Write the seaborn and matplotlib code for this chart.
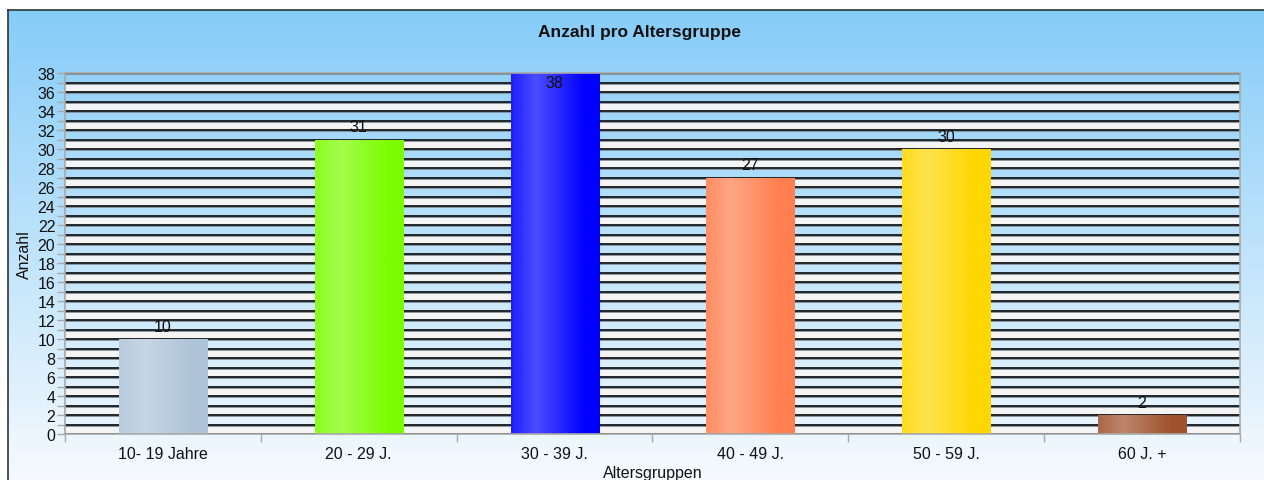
import numpy as np
import matplotlib
matplotlib.use("Agg")
import matplotlib.pyplot as plt
import matplotlib.colors as mcolors
import seaborn as sns

# Data
categories = ["10- 19 Jahre", "20 - 29 J.", "30 - 39 J.", "40 - 49 J.", "50 - 59 J.", "60 J. +"]
counts = [10, 31, 38, 27, 30, 2]
bar_colors = ["#AEC4D8", "#7CFC00", "#0000FF", "#FF7F50", "#FFD700", "#A0522D"]
y_max = 38

sns.set_theme(style="white")
plt.rcParams["font.family"] = ["Liberation Sans", "DejaVu Sans"]

W, H = 1264, 481
FS = 11.5
fig = plt.figure(figsize=(W / 100, H / 100), dpi=100, facecolor="white")

# Chart panel background: vertical gradient from sky blue to near white
bg_ax = fig.add_axes([8 / W, 0, 1 - 8 / W, 1 - 11 / H], zorder=0)
top_c = np.array(mcolors.to_rgb("#86CCF8"))
bot_c = np.array(mcolors.to_rgb("#F6FAFE"))
t = np.linspace(0, 1, 256)[:, None]
grad = top_c[None, None, :] * (1 - t[..., None]) + bot_c[None, None, :] * t[..., None]
grad = np.repeat(grad, 2, axis=1)
bg_ax.imshow(grad, aspect="auto", extent=(0, 1, 0, 1), origin="upper")
bg_ax.set_xlim(0, 1)
bg_ax.set_ylim(0, 1)
bg_ax.set_xticks([])
bg_ax.set_yticks([])
for side in ["right", "bottom"]:
    bg_ax.spines[side].set_visible(False)
for side in ["left", "top"]:
    bg_ax.spines[side].set_color("#333333")
    bg_ax.spines[side].set_linewidth(1.2)

# Plot area
ax = fig.add_axes([65 / W, (H - 435) / H, (1240 - 65) / W, (435 - 74) / H], zorder=1)
ax.set_facecolor("none")

sns.barplot(x=categories, y=counts, hue=categories, palette=bar_colors, width=0.45,
            legend=False, ax=ax, saturation=1, zorder=3, linewidth=0)

ax.set_xlim(-0.5, len(categories) - 0.5)
ax.set_ylim(0, y_max)

# Interlaced stripes and gridlines
for k in range(0, y_max, 2):
    ax.axhspan(k, k + 1, color="#F4F4F4", zorder=0.5, lw=0)
for v in range(0, y_max + 1):
    ax.axhline(v, color="#7E8E9A", lw=2.0, zorder=0.8)
    ax.axhline(v, color="#0A0A0A", lw=1.1, zorder=0.9)

# Cylindrical shading on each bar
def mix(c, other, a):
    c = np.array(mcolors.to_rgb(c))
    o = np.array(mcolors.to_rgb(other))
    return c * (1 - a) + o * a

xs = np.linspace(0, 1, 200)
for patch, col in zip(ax.patches, bar_colors):
    x0, y0 = patch.get_x(), patch.get_y()
    w, h = patch.get_width(), patch.get_height()
    left = mix(col, "white", 0.12)
    hi = mix(col, "white", 0.30)
    right = mix(col, "white", 0.0)
    prof = np.empty((200, 3))
    for i, s in enumerate(xs):
        if s < 0.28:
            a = s / 0.28
            prof[i] = left * (1 - a) + hi * a
        else:
            a = min((s - 0.28) / 0.55, 1)
            prof[i] = hi * (1 - a) + right * a
    img = np.repeat(prof[None, :, :], 2, axis=0)
    im = ax.imshow(img, aspect="auto", extent=(x0, x0 + w, y0, y0 + h),
                   zorder=3.5, interpolation="bilinear")
    im.set_clip_path(patch)

ax.set_xlim(-0.5, len(categories) - 0.5)
ax.set_ylim(0, y_max)

# Value labels
for i, v in enumerate(counts):
    dy = -7 if v >= y_max - 1 else 9
    ax.annotate(str(v), (i, v), xytext=(0, dy), textcoords="offset points",
                ha="center", va="center", fontsize=FS, color="#111111", zorder=5)

# Axes ticks
ax.set_yticks(range(0, y_max + 1, 2))
ax.set_yticks(range(1, y_max, 2), minor=True)
ax.set_xticks(range(len(categories)))
ax.set_xticklabels(categories)
ax.set_xticks(np.arange(-0.5, len(categories), 1.0), minor=True)
ax.tick_params(axis="y", which="both", length=6, width=1, color="#A8A8A8",
               labelsize=FS, labelcolor="#111111", pad=1, left=True)
ax.tick_params(axis="x", which="major", length=0, labelsize=FS,
               labelcolor="#111111", pad=9)
ax.tick_params(axis="x", which="minor", length=6, width=1, color="#A8A8A8", bottom=True)
for side in ["left", "right", "top", "bottom"]:
    ax.spines[side].set_visible(True)
    ax.spines[side].set_color("#A8A8A8")
    ax.spines[side].set_linewidth(1.2)
    ax.spines[side].set_zorder(4)

ax.set_ylabel("Anzahl", fontsize=FS, color="#111111")
ax.yaxis.set_label_coords(-0.028, 0.5)
ax.set_xlabel("Altersgruppen", fontsize=FS, color="#111111", va="center")
ax.xaxis.set_label_coords(0.5, -(474 - 435) / (435 - 74))

fig.text(640 / W, 1 - 33 / H, "Anzahl pro Altersgruppe", ha="center", va="center",
         fontsize=12.5, fontweight="bold", color="#111111")

fig.savefig("out.png", dpi=100, facecolor="white")
